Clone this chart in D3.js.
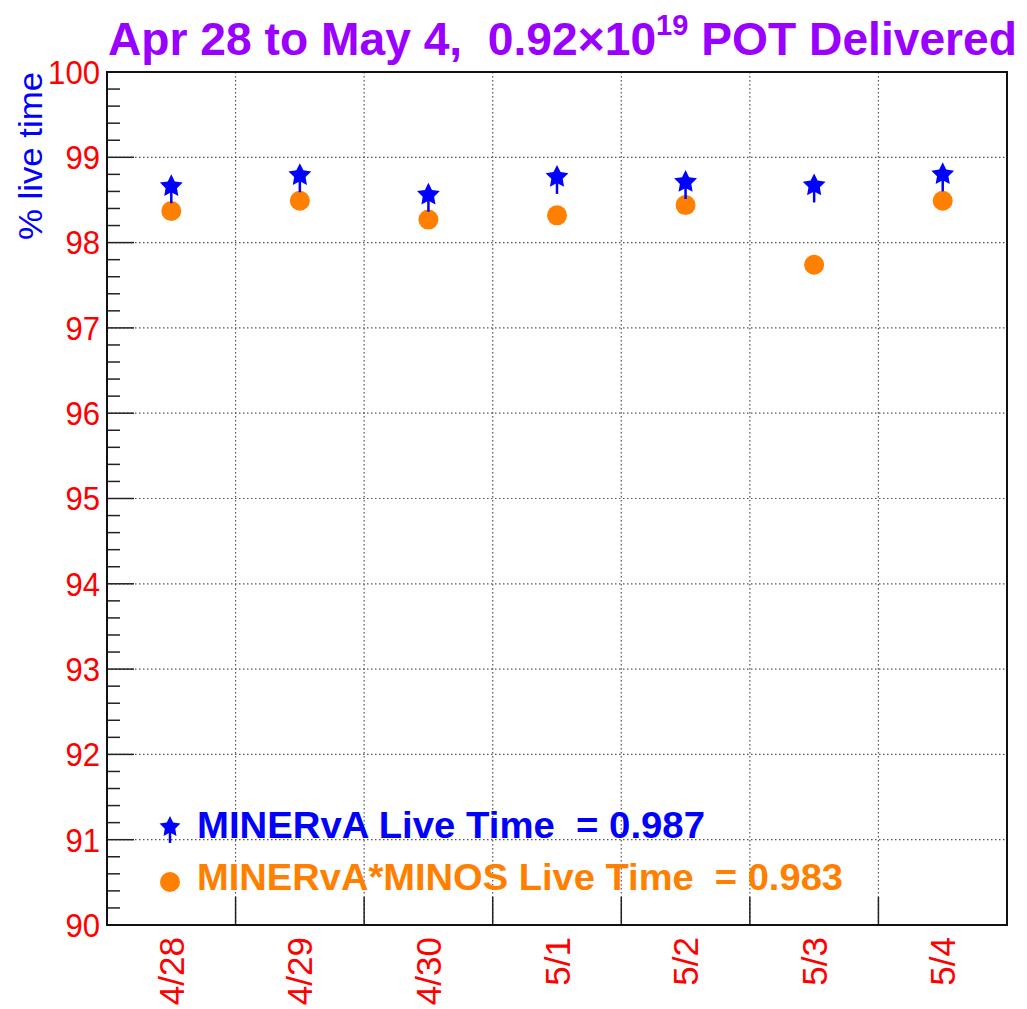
<!DOCTYPE html>
<html>
<head>
<meta charset="utf-8">
<script src="https://cdn.jsdelivr.net/npm/d3@7"></script>
<style>
  body { margin: 0; background: #fff; }
  text { font-family: "Liberation Sans", Arial, sans-serif; white-space: pre; }
</style>
</head>
<body>
<svg id="chart" width="1027" height="1009"></svg>
<script>
// data
const days = ["4/28", "4/29", "4/30", "5/1", "5/2", "5/3", "5/4"];
const minervaLive = [98.66, 98.79, 98.56, 98.77, 98.71, 98.67, 98.80];
const combinedLive = [98.37, 98.49, 98.27, 98.32, 98.44, 97.74, 98.49];
const yTicks = [90, 91, 92, 93, 94, 95, 96, 97, 98, 99, 100];
const legendLabels = ["MINERvA Live Time  = 0.987", "MINERvA*MINOS Live Time  = 0.983"];

const width = 1027, height = 1009;
const frame = { left: 107, right: 1007, top: 72, bottom: 925 };

const svg = d3.select("#chart");

const x = d3.scaleBand().domain(days).range([frame.left, frame.right]).padding(0);
const y = d3.scaleLinear().domain([90, 100]).range([frame.bottom, frame.top]);

const blue = "#0000ff", orange = "#ff7f00", red = "#ff0000";

// squeeze/stretch a text node horizontally so it spans a given width
function fitWidth(sel, target) {
  sel.attr("textLength", target).attr("lengthAdjust", "spacingAndGlyphs");
}

// grid (dotted)
const grid = svg.append("g").attr("stroke", "#555").attr("stroke-width", 1.2)
  .attr("stroke-dasharray", "1.5,2.5");
grid.selectAll("line.gy").data(yTicks.slice(1, -1)).join("line")
  .attr("x1", frame.left).attr("x2", frame.right)
  .attr("y1", d => y(d)).attr("y2", d => y(d));
grid.selectAll("line.gx").data(days.slice(1)).join("line")
  .attr("x1", d => x(d)).attr("x2", d => x(d))
  .attr("y1", frame.top).attr("y2", frame.bottom);

// y axis ticks inside the frame
const minor = d3.range(90, 100.001, 0.2).map(v => +v.toFixed(1));
svg.append("g").selectAll("line").data(minor).join("line")
  .attr("x1", frame.left)
  .attr("x2", d => frame.left + (Math.abs(d - Math.round(d)) < 1e-6 ? 27 : 13))
  .attr("y1", d => y(d)).attr("y2", d => y(d))
  .attr("stroke", "#222").attr("stroke-width", 1.5);

svg.append("g").selectAll("text").data(yTicks).join("text")
  .attr("x", frame.left - 7).attr("y", d => y(d))
  .attr("dy", "0.36em").attr("text-anchor", "end")
  .attr("fill", red).attr("font-size", 33)
  .text(d => d)
  .each(function(d) { fitWidth(d3.select(this), String(d).length * 17.3); });

// x ticks at bin edges from the bottom
svg.append("g").selectAll("line").data(days.slice(1)).join("line")
  .attr("x1", d => x(d)).attr("x2", d => x(d))
  .attr("y1", frame.bottom).attr("y2", frame.bottom - 28)
  .attr("stroke", "#222").attr("stroke-width", 1.5);

svg.append("g").selectAll("text").data(days).join("text")
  .attr("transform", d => `translate(${x(d) + x.bandwidth() / 2},${frame.bottom + 12}) rotate(-90)`)
  .attr("dy", "0.36em").attr("text-anchor", "end")
  .attr("fill", red).attr("font-size", 35)
  .text(d => d);

// frame
svg.append("rect")
  .attr("x", frame.left).attr("y", frame.top)
  .attr("width", frame.right - frame.left).attr("height", frame.bottom - frame.top)
  .attr("fill", "none").attr("stroke", "#111").attr("stroke-width", 2);

// axis title
const yTitle = svg.append("text")
  .attr("transform", `translate(42,${frame.top}) rotate(-90)`)
  .attr("text-anchor", "end").attr("fill", blue).attr("font-size", 33)
  .text("% live time");
fitWidth(yTitle, 168);

// title
const title = svg.append("text")
  .attr("x", 108).attr("y", 55)
  .attr("fill", "#9900ff").attr("font-size", 46).attr("font-weight", "bold");
title.append("tspan").text("Apr 28 to May 4,  0.92\u00d710");
title.append("tspan").attr("font-size", 29).attr("dy", -20).text("19");
title.append("tspan").attr("dy", 20).text(" POT Delivered");
fitWidth(title, 909);

// markers: ROOT style full star with a short stem
function starPath(R) {
  const r = R * 0.5;
  const pts = d3.range(10).map(k => {
    const a = -Math.PI / 2 + k * Math.PI / 5;
    const rr = k % 2 === 0 ? R : r;
    return [rr * Math.cos(a), rr * Math.sin(a)];
  });
  return "M" + pts.join("L") + "Z";
}

function drawStar(g, cx, cy, R) {
  g.append("line").attr("x1", cx).attr("x2", cx).attr("y1", cy).attr("y2", cy + R + 5)
    .attr("stroke", blue).attr("stroke-width", 2.5);
  g.append("path").attr("d", starPath(R)).attr("transform", `translate(${cx},${cy})`).attr("fill", blue);
}

const pts = svg.append("g");
days.forEach((d, i) => {
  const cx = x(d) + x.bandwidth() / 2;
  pts.append("circle").attr("cx", cx).attr("cy", y(combinedLive[i])).attr("r", 10).attr("fill", orange);
  drawStar(pts, cx, y(minervaLive[i]), 12);
});

// legend
const lg = svg.append("g");
drawStar(lg, 170, 827, 11);
lg.append("circle").attr("cx", 170).attr("cy", 882).attr("r", 10).attr("fill", orange);
const legendWidths = [508, 646];
lg.selectAll("text").data(legendLabels).join("text")
  .attr("x", 197).attr("y", (d, i) => 838 + i * 52)
  .attr("fill", (d, i) => i === 0 ? blue : orange)
  .attr("font-size", 36).attr("font-weight", "bold")
  .text(d => d)
  .each(function(d, i) { fitWidth(d3.select(this), legendWidths[i]); });
</script>
</body>
</html>
